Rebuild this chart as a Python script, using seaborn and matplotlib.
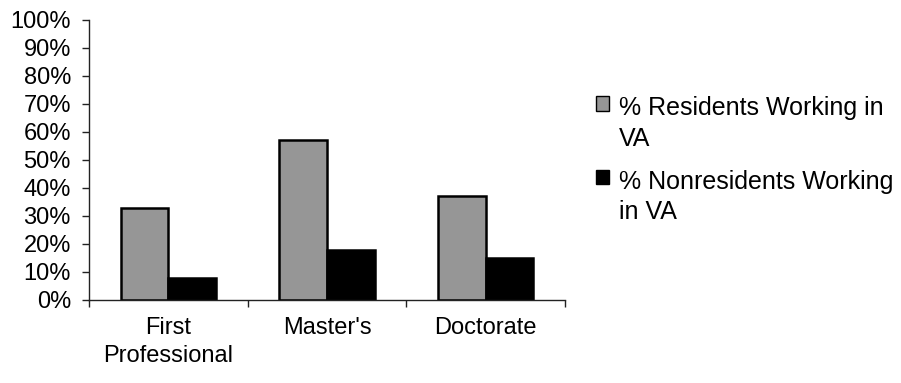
import matplotlib
matplotlib.use("Agg")
import matplotlib.pyplot as plt
from matplotlib.patches import Patch
from matplotlib.ticker import FixedLocator, FuncFormatter
import pandas as pd
import seaborn as sns

# Share of graduates working in Virginia, by degree level
degrees = ["First\nProfessional", "Master's", "Doctorate"]
series_names = ["% Residents Working in\nVA", "% Nonresidents Working\nin VA"]
residents_pct = [33, 57, 37]
nonresidents_pct = [8, 18, 15]
y_ticks = list(range(0, 101, 10))

df = pd.DataFrame({
    "degree": degrees * 2,
    "series": [series_names[0]] * len(degrees) + [series_names[1]] * len(degrees),
    "pct": residents_pct + nonresidents_pct,
})

sns.set_theme(style="white")
plt.rcParams["font.family"] = ["Liberation Sans", "DejaVu Sans"]
plt.rcParams["text.color"] = "black"

colors = ["#969696", "#000000"]
fs = 17

fig = plt.figure(figsize=(9.01, 3.83), dpi=100)
ax = fig.add_axes([89 / 901, 1 - 300 / 383, 476 / 901, 280 / 383])

sns.barplot(data=df, x="degree", y="pct", hue="series", order=degrees,
            hue_order=series_names, palette=colors, width=0.6,
            edgecolor="black", linewidth=1.8, saturation=1,
            legend=False, ax=ax)

ax.set_xlim(-0.5, 2.5)
ax.set_ylim(0, 100)
ax.set_yticks(y_ticks)
ax.yaxis.set_major_formatter(FuncFormatter(lambda v, _: f"{int(v)}%"))
ax.set_xlabel("")
ax.set_ylabel("")

for side in ("top", "right"):
    ax.spines[side].set_visible(False)
for side in ("left", "bottom"):
    ax.spines[side].set_color("#222222")
    ax.spines[side].set_linewidth(1.0)

ax.tick_params(axis="y", which="major", left=True, direction="out", length=5,
               width=1, color="#222222", pad=8, labelsize=fs, labelcolor="black")
ax.tick_params(axis="x", which="major", length=0, pad=12, labelsize=fs,
               labelcolor="black")
for t in ax.get_xticklabels():
    t.set_linespacing(1.35)
# category separators on the x axis
ax.xaxis.set_minor_locator(FixedLocator([-0.5, 0.5, 1.5, 2.5]))
ax.tick_params(axis="x", which="minor", bottom=True, direction="out", length=5,
               width=1, color="#222222")

handles = [Patch(facecolor=c, edgecolor="black", linewidth=1.0) for c in colors]
leg = fig.legend(handles, series_names, loc="upper left",
                 bbox_to_anchor=(596 / 901, 1 - 96 / 383),
                 bbox_transform=fig.transFigure, frameon=False, fontsize=18,
                 handlelength=0.52, handleheight=0.52, handletextpad=0.4,
                 labelspacing=0.75, borderpad=0, borderaxespad=0)
for t in leg.get_texts():
    t.set_linespacing(1.36)
    t.set_color("black")
# put each swatch beside the first line of its label
for col in leg._legend_handle_box.get_children():
    for row in col.get_children():
        row.align = "top"

fig.savefig("out.png", dpi=100)
